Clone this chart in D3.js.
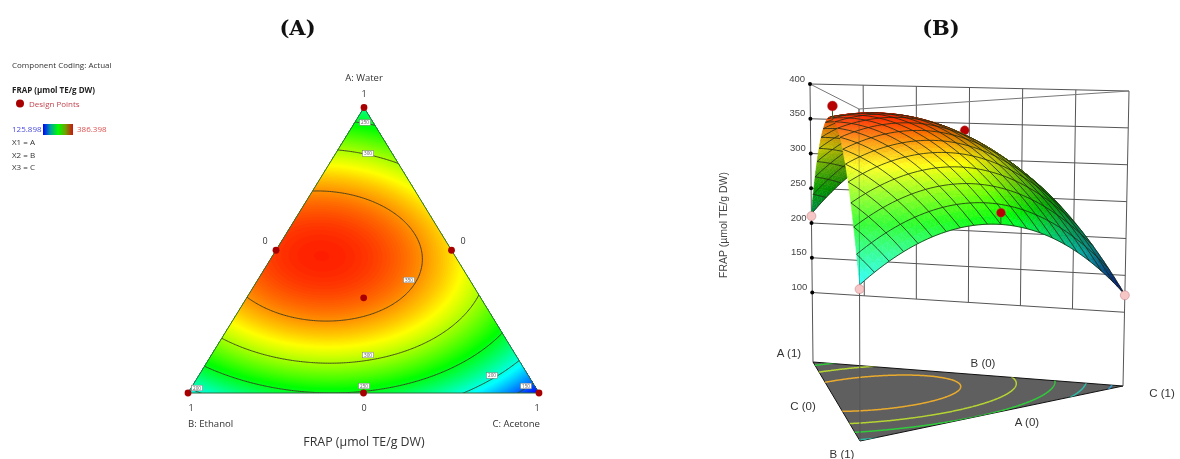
<!DOCTYPE html>
<html><head><meta charset="utf-8">
<script src="https://cdn.jsdelivr.net/npm/d3@7"></script>
<style>
html,body{margin:0;padding:0;background:#fff}
svg{display:block;filter:blur(.35px)}
text{font-family:"Open Sans","Noto Sans",sans-serif;fill:#333}
</style></head><body>
<svg id="c" width="1180" height="459" viewBox="0 0 1180 459"></svg>
<script>
// ---- data ----
const components = ["A: Water", "B: Ethanol", "C: Acetone"];
const responseTitle = "FRAP (µmol TE/g DW)";
const legendRange = [125.898, 386.398];
const legendNotes = ["X1 = A", "X2 = B", "X3 = C"];
// design points: mixture proportions and measured response
const designA = [1, 0, 0, 0.5, 0.5, 0, 1/3];
const designB = [0, 1, 0, 0.5, 0, 0.5, 1/3];
const designC = [0, 0, 1, 0, 0.5, 0.5, 1/3];
const designFrap = [210, 183, 123, 386, 340, 255, 361];
// response at the six lattice nodes (A, B, C, AB, AC, BC)
const fittedNodes = [219, 190, 126, 373, 330, 247];
// the same nodes as read from the heights of the surface in panel B
const surfaceNodes = [213, 188, 124, 370, 322, 240];
const contourLevels = [150, 200, 250, 300, 350];
const contourLabels = ["250", "300", "350", "300", "250", "200", "200", "150"];
const zTicks = [100, 150, 200, 250, 300, 350, 400];
const colourStops = ["#0000ff", "#00ffff", "#00ff00", "#ffff00", "#ff0000"];

// ---- layout ----
const svg = d3.select("#c");
// quadratic mixture blend through six lattice nodes
function blend(n) {
  const kAB = 4 * (n[3] - (n[0] + n[1]) / 2), kAC = 4 * (n[4] - (n[0] + n[2]) / 2), kBC = 4 * (n[5] - (n[1] + n[2]) / 2);
  const f = (a, b, c) => n[0]*a + n[1]*b + n[2]*c + kAB*a*b + kAC*a*c + kBC*b*c;
  f.grad = (a, b, c) => [n[0] + kAB*b + kAC*c, n[1] + kAB*a + kBC*c, n[2] + kAC*a + kBC*b];
  return f;
}
const model = blend(fittedNodes), height = blend(surfaceNodes);
const colour = d3.scaleLinear()
  .domain(colourStops.map((_, i) => legendRange[0] + i * (legendRange[1] - legendRange[0]) / 4))
  .range(colourStops).clamp(true);

function label(x, y, t, o = {}) {
  const s = svg.append("text").attr("x", x).attr("y", y).text(t)
    .attr("font-size", o.size || 8).attr("text-anchor", o.anchor || "start")
    .attr("font-weight", o.weight || null)
    .style("fill", o.fill || "#333").attr("transform", o.rotate ? `rotate(${o.rotate} ${x} ${y})` : null);
  if (o.family) s.style("font-family", o.family);
  return s;
}
const titleStyle = {size: 21, anchor: "middle", weight: "bold", family: "DejaVu Serif", fill: "#111"};
label(297.5, 35, "(A)", titleStyle);
label(941, 35, "(B)", titleStyle);

// legend
label(12, 68, "Component Coding: Actual", {size: 8});
label(12, 93, responseTitle, {size: 8, weight: 700, fill: "#222"});
svg.append("circle").attr("cx", 20).attr("cy", 103.5).attr("r", 4).attr("fill", "#a80000");
label(29, 106.5, "Design Points", {size: 8, fill: "#c0444f"});
label(12, 132, legendRange[0].toFixed(3), {size: 8, fill: "#4a4ae0"});
label(77, 132, legendRange[1].toFixed(3), {size: 8, fill: "#e05050"});
const defs = svg.append("defs");
const grad = defs.append("linearGradient").attr("id", "lg");
[["#0000ff",0],["#00a0a0",.25],["#00ff00",.5],["#70a000",.75],["#d01010",1]].forEach(([c,o]) => grad.append("stop").attr("offset", o).attr("stop-color", c));
svg.append("rect").attr("x", 43).attr("y", 124).attr("width", 30).attr("height", 11).attr("fill", "url(#lg)");
legendNotes.forEach((t, i) => label(12, 145 + i * 12.5, t, {size: 8}));

// ---- contour field on an extended (B,C) grid ----
const G = 260, lo = -0.15, step = 1.3 / G;
const field = new Float64Array(G * G);
for (let r = 0; r < G; r++) for (let q = 0; q < G; q++) {
  const b = lo + q * step, c = lo + r * step;
  field[r * G + q] = model(1 - b - c, b, c);
}
const gridBC = (x, y) => [lo + (x - 0.5) * step, lo + (y - 0.5) * step];
const contourer = d3.contours().size([G, G]).smooth(true);

// ---- panel A: ternary map ----
const vx = {A: 364, B: 188, C: 539}, vy = {A: 107.5, B: 393, C: 393};
const ternary = (a, b, c) => [a*vx.A + b*vx.B + c*vx.C, a*vy.A + b*vy.B + c*vy.C];
const ternPath = d3.geoPath(d3.geoTransform({point(x, y) {
  const [b, c] = gridBC(x, y); const p = ternary(1 - b - c, b, c); this.stream.point(p[0], p[1]);
}}));
const triPts = [[1,0,0],[0,1,0],[0,0,1]].map(l => ternary(...l));
defs.append("clipPath").attr("id", "triClip").append("polygon").attr("points", triPts.join(" "));
const gA = svg.append("g").attr("clip-path", "url(#triClip)");
gA.append("polygon").attr("points", triPts.join(" ")).attr("fill", colour(120));
gA.selectAll("path.f").data(contourer.thresholds(d3.range(100, 400, 1.5))(field)).join("path")
  .attr("d", ternPath).attr("fill", d => colour(d.value)).attr("stroke", "none");
gA.selectAll("path.l").data(contourer.thresholds(contourLevels)(field)).join("path")
  .attr("d", ternPath).attr("fill", "none").attr("stroke", "#3a3a22").attr("stroke-width", .9);
svg.append("polygon").attr("points", triPts.join(" ")).attr("fill", "none").attr("stroke", "#2f6b3a").attr("stroke-width", 1);

const labelSpots = [[365,122.5],[368,153.5],[409,280],[368,355],[364,386],[197,388],[492,375.5],[526,386]];
contourLabels.forEach((t, i) => {
  const [x, y] = labelSpots[i];
  svg.append("rect").attr("x", x - 5.5).attr("y", y - 2.8).attr("width", 11).attr("height", 5.6)
    .attr("fill", "#fff").attr("stroke", "#777").attr("stroke-width", .5);
  label(x, y + 1.7, t, {size: 4.6, anchor: "middle", fill: "#555"});
});
designA.forEach((a, i) => {
  const p = ternary(a, designB[i], designC[i]);
  svg.append("circle").attr("cx", p[0]).attr("cy", p[1]).attr("r", 3.4).attr("fill", "#a80000");
});
label(364, 80.5, components[0], {size: 9.5, anchor: "middle"});
label(364, 97, "1", {size: 9, anchor: "middle"});
label(265, 244, "0", {size: 9, anchor: "middle"});
label(463, 244, "0", {size: 9, anchor: "middle"});
label(191, 411, "1", {size: 9, anchor: "middle"});
label(364, 411, "0", {size: 9, anchor: "middle"});
label(537, 411, "1", {size: 9, anchor: "middle"});
label(188, 426.5, components[1], {size: 9.6});
label(540, 426.5, components[2], {size: 9.6, anchor: "end"});
label(364, 446, responseTitle, {size: 12.4, anchor: "middle"});

// ---- panel B: 3D surface ----
const zDom = [0, 400];
const post = {
  A: {x: d3.scaleLinear(zDom, [813, 810]),   y: d3.scaleLinear(zDom, [362, 84]),  w: 1.43},
  B: {x: d3.scaleLinear(zDom, [860, 859]),   y: d3.scaleLinear(zDom, [441, 109]), w: 1.20},
  C: {x: d3.scaleLinear(zDom, [1123, 1129]), y: d3.scaleLinear(zDom, [386, 91]),  w: 1.35}
};
const depth = (a, b, c) => a*post.A.w + b*post.B.w + c*post.C.w;
function proj(a, b, c, z) {
  const wa = a*post.A.w, wb = b*post.B.w, wc = c*post.C.w, d = wa + wb + wc;
  return [(wa*post.A.x(z) + wb*post.B.x(z) + wc*post.C.x(z)) / d,
          (wa*post.A.y(z) + wb*post.B.y(z) + wc*post.C.y(z)) / d];
}
const wire = (g, p, q, col = "#555", w = 1) => g.append("line")
  .attr("x1", p[0]).attr("y1", p[1]).attr("x2", q[0]).attr("y2", q[1]).attr("stroke", col).attr("stroke-width", w);
const gB = svg.append("g");
// floor
const floorPts = [[1,0,0],[0,1,0],[0,0,1]].map(l => proj(...l, 0));
defs.append("clipPath").attr("id", "floorClip").append("polygon").attr("points", floorPts.join(" "));
gB.append("polygon").attr("points", floorPts.join(" ")).attr("fill", "#5f5f5f").attr("stroke", "#111").attr("stroke-width", 1);
const floorPath = d3.geoPath(d3.geoTransform({point(x, y) {
  const [b, c] = gridBC(x, y); const p = proj(1 - b - c, b, c, 0); this.stream.point(p[0], p[1]);
}}));
const floorCol = d3.scaleOrdinal(contourLevels, ["#2a9fd0", "#2bbfa8", "#2fcb3a", "#b4d433", "#e9ab2d"]);
gB.append("g").attr("clip-path", "url(#floorClip)").selectAll("path")
  .data(contourer.thresholds(contourLevels)(field)).join("path")
  .attr("d", floorPath).attr("fill", "none").attr("stroke", d => floorCol(d.value)).attr("stroke-width", 1.5);
// cage: back wall between posts A and C, evenly spaced on screen
const wallAt = (t, z) => {
  const ca = 1 - t, cc = t, c = cc * post.A.w / (ca * post.C.w + cc * post.A.w);
  return proj(1 - c, 0, c, z);
};
zTicks.forEach(z => wire(gB, proj(1,0,0,z), proj(0,0,1,z)));
d3.range(1, 6).forEach(k => wire(gB, wallAt(k/6, 100), wallAt(k/6, 400)));
[[1,0,0],[0,1,0],[0,0,1]].forEach(l => wire(gB, proj(...l,0), proj(...l,400)));
wire(gB, proj(1,0,0,400), proj(0,1,0,400), "#777");
wire(gB, proj(0,1,0,400), proj(0,0,1,400), "#777");
zTicks.forEach(z => {
  const p = proj(1,0,0,z);
  gB.append("circle").attr("cx", p[0]).attr("cy", p[1]).attr("r", 2).attr("fill", "#000");
  label(p[0] - 5, p[1] - 2.5, String(z), {size: 9.5, anchor: "end", fill: "#444", family: "Liberation Sans"});
});
const dot = (i, fill, r) => {
  const p = proj(designA[i], designB[i], designC[i], designFrap[i]);
  svg.append("circle").attr("cx", p[0]).attr("cy", p[1]).attr("r", r).attr("fill", fill).attr("stroke", "#b06060").attr("stroke-width", .4);
};
dot(4, "#b80000", 4.5); // behind the surface

// surface, painter's order by depth, mesh segments kept with their neighbours
const N = 60, M = 3;
const vert = (i, j) => { const a = i/N, b = j/N, c = 1 - a - b; return {a, b, c, z: height(a, b, c)}; };
const P = v => proj(v.a, v.b, v.c, v.z);
function tint(a, b, c) {
  const [dA, dB, dC] = height.grad(a, b, c);
  const s = 0.9 * (dB - (dA + dC)/2) + 0.5 * ((dA + dB)/2 - dC);
  const base = colour(model(a, b, c));
  if (s > 0) return d3.interpolateRgb(base, "#000")(Math.min(1, s / 380) * 0.7);
  return d3.interpolateRgb(base, "#fff")(Math.min(1, -s / 300) * 0.22);
}
const items = [];
const addTri = (t) => {
  const m = t.reduce((s, v) => [s[0]+v.a/3, s[1]+v.b/3, s[2]+v.c/3], [0,0,0]);
  items.push({k: depth(...m), tri: t.map(P), col: tint(...m)});
};
const addSeg = (u, v) => items.push({k: depth((u.a+v.a)/2, (u.b+v.b)/2, (u.c+v.c)/2) - 0.007, seg: [P(u), P(v)]});
for (let i = 0; i < N; i++) for (let j = 0; j < N - i; j++) {
  const p = vert(i, j), q = vert(i+1, j), r = vert(i, j+1);
  addTri([p, q, r]);
  if (i + j < N - 1) addTri([q, vert(i+1, j+1), r]);
  if (i % M === 0) addSeg(p, r);       // constant A
  if (j % M === 0) addSeg(p, q);       // constant B
}
items.sort((x, y) => y.k - x.k);
const gS = svg.append("g");
items.forEach(d => {
  if (d.tri) gS.append("polygon").attr("points", d.tri.join(" ")).attr("fill", d.col).attr("stroke", d.col).attr("stroke-width", .5);
  else wire(gS, d.seg[0], d.seg[1], "#1d2a14", .8);
});
// post B seen faintly through the surface
wire(gS, proj(0,1,0,400), proj(0,1,0,surfaceNodes[1]), "#333").attr("stroke-opacity", .3);
// stems and remaining design points
[3, 5].forEach(i => {
  const a = designA[i], b = designB[i], c = designC[i];
  wire(svg, proj(a,b,c,designFrap[i]), proj(a,b,c,height(a,b,c)), "#3a5a20", 1);
  dot(i, "#b80000", i === 3 ? 5 : 4.5);
});
[0, 1, 2].forEach(i => dot(i, "#f6c6c6", 4.5));

const axisLabel = {size: 11.5, anchor: "middle", fill: "#333", family: "Liberation Sans"};
label(789, 357, "A (1)", axisLabel);
label(983, 367, "B (0)", axisLabel);
label(1162, 397, "C (1)", axisLabel);
label(803, 410, "C (0)", axisLabel);
label(1027, 426, "A (0)", axisLabel);
label(842, 458, "B (1)", axisLabel);
label(727, 225, responseTitle, {size: 10.5, anchor: "middle", rotate: -90, fill: "#444", family: "Liberation Sans"});
</script>
</body></html>
